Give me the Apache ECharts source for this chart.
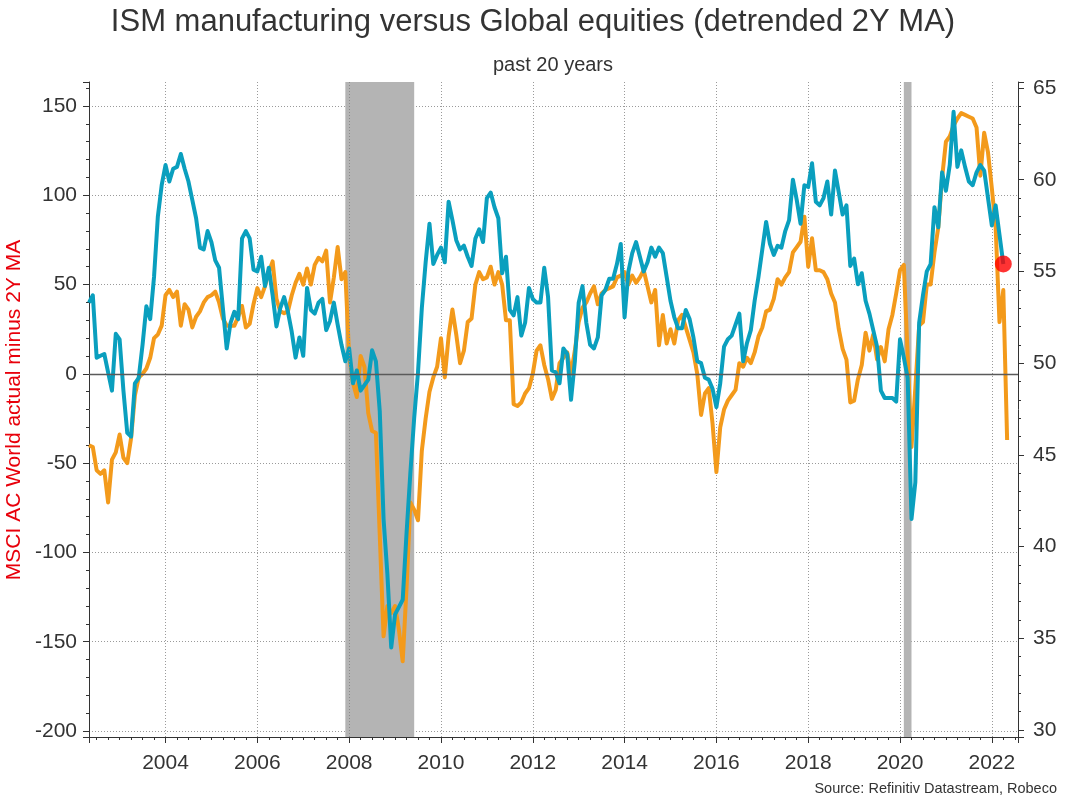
<!DOCTYPE html>
<html><head><meta charset="utf-8">
<script src="https://cdn.jsdelivr.net/npm/echarts@6/dist/echarts.min.js"></script>
<style>html,body{margin:0;padding:0;background:#fff}#c{width:1066px;height:799px}</style>
</head><body><div id="c"></div>
<script>
// ---- data ----
const startYear = 2002, startMonth = 5; // first observation: May 2002, monthly
const ismValues = [
 53.3,53.7,50.3,50.4,50.5,49.5,48.5,51.6,51.3,48.5,
 46.2,46.0,48.9,49.2,51.0,53.1,52.4,54.7,58.0,59.7,
 60.8,59.9,60.6,60.7,61.4,60.6,59.9,58.9,57.9,56.3,
 56.2,57.2,56.6,55.6,55.2,53.0,50.8,52.2,52.8,52.4,
 56.8,57.2,56.8,55.1,55.0,55.8,54.2,55.2,53.7,52.0,
 53.0,53.6,52.8,51.7,50.3,51.4,50.4,54.1,52.9,52.7,
 53.3,53.5,51.8,52.3,53.3,52.1,51.0,50.1,50.8,48.9,
 49.6,48.5,48.8,49.1,50.7,50.1,47.4,41.5,38.5,34.5,
 36.3,36.7,37.1,40.7,44.0,47.0,49.5,53.0,55.5,57.6,
 55.4,55.9,56.3,55.5,58.8,57.8,56.7,56.2,56.4,55.8,
 55.3,56.8,57.3,56.6,59.0,59.3,58.5,57.9,54.9,55.8,
 52.9,52.6,53.6,51.5,52.2,54.1,53.5,53.3,53.3,55.2,
 53.6,49.6,49.5,48.9,50.8,50.5,48.0,50.1,53.3,54.2,
 52.2,51.0,50.8,51.4,53.7,54.0,54.6,54.6,55.4,56.5,
 52.5,55.0,56.0,56.6,55.8,55.0,55.5,56.3,55.8,56.3,
 56.0,54.7,53.4,52.5,51.9,51.9,52.9,52.4,51.4,50.1,
 50.0,49.2,49.1,48.6,47.6,48.9,50.9,51.3,51.5,52.1,
 52.7,50.1,51.1,51.8,53.4,54.7,56.2,57.7,56.5,55.9,
 56.4,56.3,57.2,57.8,60.0,58.9,57.6,59.7,59.6,60.9,
 58.8,58.6,59.0,59.9,58.1,60.5,59.3,58.1,58.6,55.3,
 55.7,54.3,54.9,53.4,52.7,51.8,50.9,48.5,48.1,48.1,
 48.1,47.9,51.3,50.3,49.2,41.5,43.5,52.2,53.7,55.0,
 55.4,58.5,57.4,60.4,59.4,60.8,63.7,60.7,61.6,60.7,
 59.9,59.7,60.4,60.8,60.5,59.0,57.5,58.6,57.0,55.4
];
const msciValues = [
 -40,-41,-54,-56,-54,-72,-48,-44,-34,-47,
 -50,-36,-12,-2,0,3,9,20,22,27,
 44,47,43,46,27,39,36,26,32,35,
 40,43,44,46,40,31,27,27,27,32,
 38,26,28,39,48,43,49,57,63,42,
 35,34,35,44,51,56,50,59,50,61,
 65,63,69,40,54,71,53,57,10,-5,
 -13,10,4,-22,-32,-33,-90,-147,-130,-134,
 -130,-143,-161,-120,-72,-76,-82,-43,-25,-10,
 -2,4,20,-2,21,36,22,6,13,29,
 31,50,57,53,54,60,50,57,50,30,
 30,-17,-18,-16,-11,-8,0,13,16,5,
 -3,-14,-9,6,9,12,0,13,29,37,
 40,45,49,39,45,47,48,49,54,55,
 57,50,55,51,54,58,49,40,47,16,
 33,17,25,17,30,33,26,19,12,0,
 -23,-11,-8,-28,-55,-30,-20,-15,-12,-9,
 6,4,9,6,12,21,26,35,36,42,
 53,50,54,57,68,71,74,88,60,76,
 58,58,57,53,45,40,25,14,8,-16,
 -15,-3,5,23,13,22,8,15,7,25,
 33,45,58,61,10,-41,-8,27,29,50,
 50,68,82,110,130,133,139,143,146,145,
 144,143,138,111,135,124,104,82,29,47,
 -37
];
const recessions = [[2007.917, 2009.417], [2020.083, 2020.25]];
const titleText = 'ISM manufacturing versus Global equities (detrended 2Y MA)';
const subtitleText = 'past 20 years';
const leftAxisName = 'MSCI AC World actual minus 2Y MA';
const sourceText = 'Source: Refinitiv Datastream, Robeco';

// ---- chart ----
const monthT = i => startYear + (startMonth - 1 + i) / 12;
const ismData = ismValues.map((v, i) => [monthT(i), v]);
const msciData = msciValues.map((v, i) => [monthT(i), v]);
const lastIsm = ismData[ismData.length - 1];

const FONT = '"Liberation Sans", Arial, Helvetica, sans-serif';
const AX = '#333333';
const xMin = monthT(0), xMax = 2022.57;

const chart = echarts.init(document.getElementById('c'), null, {renderer: 'canvas'});
const axisCommon = {
  axisLine: {show: true, onZero: false, lineStyle: {color: AX, width: 1}},
  axisTick: {show: true, inside: false, length: 6, lineStyle: {color: AX, width: 1}},
  minorTick: {show: true, length: 3, lineStyle: {color: AX, width: 1}},
  axisLabel: {showMinLabel: false, showMaxLabel: false, color: AX, fontFamily: FONT, fontSize: 21}
};
chart.setOption({
  animation: false,
  backgroundColor: '#ffffff',
  grid: {left: 89, right: 48, top: 82, bottom: 62, containLabel: false},
  xAxis: {
    type: 'value', min: xMin, max: xMax, splitNumber: 10,
    axisLine: axisCommon.axisLine, axisTick: axisCommon.axisTick,
    minorTick: Object.assign({}, axisCommon.minorTick, {splitNumber: 8}),
    axisLabel: Object.assign({}, axisCommon.axisLabel, {margin: 16, formatter: v => String(Math.round(v))}),
    splitLine: {show: true, showMinLine: false, showMaxLine: false, lineStyle: {type: [1, 2], color: '#9a9a9a', width: 1}}
  },
  yAxis: [{
    type: 'value', position: 'left', min: -203.36, max: 163.44, splitNumber: 7,
    axisLine: axisCommon.axisLine, axisTick: axisCommon.axisTick,
    minorTick: Object.assign({}, axisCommon.minorTick, {splitNumber: 5}),
    axisLabel: Object.assign({}, axisCommon.axisLabel, {margin: 12}),
    splitLine: {show: true, showMinLine: false, showMaxLine: false, lineStyle: {type: [1, 2], color: '#9a9a9a', width: 1}}
  }, {
    type: 'value', position: 'right', min: 29.618, max: 65.327, splitNumber: 7,
    axisLine: axisCommon.axisLine, axisTick: axisCommon.axisTick,
    minorTick: Object.assign({}, axisCommon.minorTick, {splitNumber: 5}),
    axisLabel: Object.assign({}, axisCommon.axisLabel, {margin: 15}),
    splitLine: {show: false}
  }],
  graphic: [
    {type: 'text', x: 533, y: 22, style: {text: titleText, font: 'normal 31px ' + FONT, fill: '#333', align: 'center', verticalAlign: 'middle', textAlign: 'center', textVerticalAlign: 'middle'}},
    {type: 'text', x: 553, y: 65, style: {text: subtitleText, font: 'normal 20px ' + FONT, fill: '#333', align: 'center', verticalAlign: 'middle', textAlign: 'center', textVerticalAlign: 'middle'}},
    {type: 'text', x: 14, y: 410, rotation: Math.PI / 2, style: {text: leftAxisName, font: 'normal 21px ' + FONT, fill: '#e8000b', align: 'center', verticalAlign: 'middle', textAlign: 'center', textVerticalAlign: 'middle'}},
    {type: 'text', x: 1057, y: 789, style: {text: sourceText, font: 'normal 14.5px "Liberation Sans Narrow", "Arial Narrow", ' + FONT, fill: '#333', align: 'right', verticalAlign: 'middle', textAlign: 'right', textVerticalAlign: 'middle'}}
  ],
  series: [
    {
      name: 'recessions', type: 'line', xAxisIndex: 0, yAxisIndex: 0, z: 1,
      data: [], showSymbol: false, silent: true,
      markArea: {silent: true, itemStyle: {color: '#b4b4b4'}, data: recessions.map(r => [{xAxis: r[0]}, {xAxis: r[1]}])}
    },
    {
      name: 'refs', type: 'line', xAxisIndex: 0, yAxisIndex: 0, z: 1.5,
      data: [], showSymbol: false, silent: true,
      markLine: {silent: true, symbol: ['none', 'none'], label: {show: false},
        data: [
          {yAxis: 0, lineStyle: {color: '#5a5a5a', width: 1.3, type: 'solid'}},
          {xAxis: 2008, lineStyle: {color: '#8a8a8a', width: 1, type: [1, 2]}}
        ]}
    },
    {
      name: 'MSCI AC World actual minus 2Y MA', type: 'line', xAxisIndex: 0, yAxisIndex: 0, z: 3,
      data: msciData, showSymbol: false, smooth: false,
      lineStyle: {color: '#F39A1B', width: 4, join: 'round'}, itemStyle: {color: '#F39A1B'}
    },
    {
      name: 'ISM manufacturing', type: 'line', xAxisIndex: 0, yAxisIndex: 1, z: 4,
      data: ismData, showSymbol: false, smooth: false,
      lineStyle: {color: '#0A9FBE', width: 4, join: 'round'}, itemStyle: {color: '#0A9FBE'}
    },
    {
      name: 'last', type: 'scatter', xAxisIndex: 0, yAxisIndex: 1, z: 5,
      data: [lastIsm], symbolSize: 17, itemStyle: {color: '#FF0000'}, silent: true
    }
  ]
});
</script>
</body></html>
